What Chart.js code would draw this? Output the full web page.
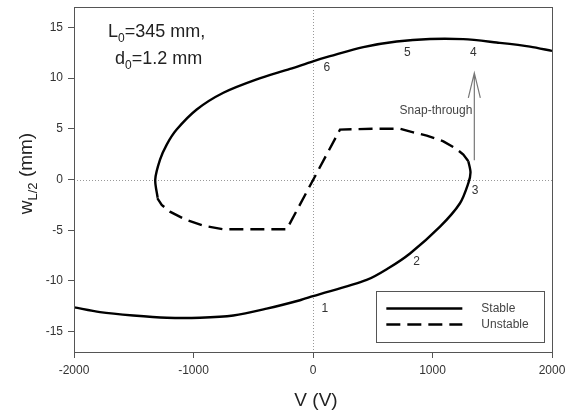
<!DOCTYPE html>
<html>
<head>
<meta charset="utf-8">
<script src="https://cdn.jsdelivr.net/npm/chart.js@4"></script>
<style>
  html, body { margin: 0; padding: 0; background: #fff; }
  #wrap { width: 569px; height: 415px; }
</style>
</head>
<body>
<div id="wrap"><canvas id="myChart" width="569" height="415"></canvas></div>
<script>
'use strict';

// stable branch, lower part (ends at the limit point 3)
var stableLowV = [-2000, -1782, -1504, -1224, -946, -667, -388, -109, 0, 449, 630, 812, 1063, 1230, 1300, 1318, 1300];
var stableLowW = [-12.6, -13.07, -13.4, -13.62, -13.62, -13.4, -12.73, -11.9, -11.5, -9.9, -8.75, -7.29, -4.65, -2.34, -0.36, 0.7, 1.8];

// stable branch, upper part
var stableUpV = [-1300, -1320, -1280, -1224, -1141, -973, -750, -471, -192, 0, 142, 421, 700, 979, 1258, 1537, 1816, 2000];
var stableUpW = [-1.8, 0, 1.95, 3.44, 4.92, 6.9, 8.55, 9.87, 10.9, 11.65, 12.15, 13.05, 13.6, 13.85, 13.83, 13.5, 13.1, 12.67];

// unstable branch
var unstableV = [1300, 1258, 1202, 1091, 952, 839, 728, 505, 226, -220, -750, -918, -1071, -1197, -1266, -1303];
var unstableW = [1.8, 2.45, 3.0, 3.76, 4.33, 4.65, 5.0, 5.0, 4.92, -4.91, -4.91, -4.55, -3.92, -3.17, -2.5, -1.84];

// numbered points along the path
var pointLabels = ['1', '2', '3', '4', '5', '6'];
var pointLabelV = [100, 867, 1356, 1342, 789, 115];
var pointLabelW = [-12.7, -8.1, -1.1, 12.5, 12.5, 11.0];

// snap-through arrow (from point 3 up to point 4)
var arrowV = 1350;
var arrowFromW = 1.9;
var arrowToW = 10.5;

var xTicks = [-2000, -1000, 0, 1000, 2000];
var yTicks = [-15, -10, -5, 0, 5, 10, 15];
var legendLabels = ['Stable', 'Unstable'];

var FONT = 'Arial, "Liberation Sans", sans-serif';

function toPts(xs, ys) {
	return xs.map(function(v, i) { return { x: v, y: ys[i] }; });
}

// text with a subscript part: [main, sub, rest]
function drawSubText(ctx, x, y, parts, size, subSize, align) {
	ctx.font = size + 'px ' + FONT;
	var w1 = ctx.measureText(parts[0]).width;
	var w3 = ctx.measureText(parts[2]).width;
	ctx.font = subSize + 'px ' + FONT;
	var w2 = ctx.measureText(parts[1]).width;
	var start = align === 'center' ? x - (w1 + w2 + w3) / 2 : x;
	ctx.textAlign = 'left';
	ctx.textBaseline = 'alphabetic';
	ctx.font = size + 'px ' + FONT;
	ctx.fillText(parts[0], start, y);
	ctx.font = subSize + 'px ' + FONT;
	ctx.fillText(parts[1], start + w1, y + size * 0.28);
	ctx.font = size + 'px ' + FONT;
	ctx.fillText(parts[2], start + w1 + w2, y);
}

var decorPlugin = {
	id: 'decor',
	beforeDatasetsDraw: function(chart) {
		var ctx = chart.ctx, a = chart.chartArea;
		var sx = chart.scales.x, sy = chart.scales.y;
		ctx.save();
		ctx.strokeStyle = '#999';
		ctx.lineWidth = 1;
		ctx.setLineDash([1, 2]);
		var x0 = Math.round(sx.getPixelForValue(0)) + 0.5;
		var y0 = Math.round(sy.getPixelForValue(0)) + 0.5;
		ctx.beginPath();
		ctx.moveTo(x0, a.top); ctx.lineTo(x0, a.bottom);
		ctx.moveTo(a.left, y0); ctx.lineTo(a.right, y0);
		ctx.stroke();
		ctx.restore();
	},
	afterDraw: function(chart) {
		var ctx = chart.ctx, a = chart.chartArea;
		var sx = chart.scales.x, sy = chart.scales.y;
		ctx.save();

		// frame
		ctx.strokeStyle = '#555';
		ctx.lineWidth = 1;
		ctx.strokeRect(Math.round(a.left) + 0.5, Math.round(a.top) + 0.5,
			Math.round(a.right - a.left), Math.round(a.bottom - a.top));

		// numbered points
		ctx.fillStyle = '#333';
		ctx.font = '12px ' + FONT;
		ctx.textAlign = 'center';
		ctx.textBaseline = 'middle';
		pointLabels.forEach(function(t, i) {
			ctx.fillText(t, sx.getPixelForValue(pointLabelV[i]), sy.getPixelForValue(pointLabelW[i]));
		});

		// snap-through arrow
		var ax = sx.getPixelForValue(arrowV);
		var ay1 = sy.getPixelForValue(arrowFromW);
		var ay2 = sy.getPixelForValue(arrowToW);
		ctx.strokeStyle = '#777';
		ctx.lineWidth = 1.2;
		ctx.beginPath();
		ctx.moveTo(ax, ay1); ctx.lineTo(ax, ay2);
		ctx.moveTo(ax - 6, ay2 + 25); ctx.lineTo(ax, ay2); ctx.lineTo(ax + 6, ay2 + 25);
		ctx.stroke();
		ctx.fillStyle = '#444';
		ctx.font = '12px ' + FONT;
		ctx.textAlign = 'right';
		ctx.textBaseline = 'middle';
		ctx.fillText('Snap-through', ax - 2, ay2 + 38);

		// parameters
		ctx.fillStyle = '#222';
		drawSubText(ctx, 108, 37, ['L', '0', '=345 mm,'], 18, 12, 'left');
		drawSubText(ctx, 115, 64, ['d', '0', '=1.2 mm'], 18, 12, 'left');

		// axis titles
		ctx.fillStyle = '#222';
		ctx.font = '19px ' + FONT;
		ctx.textAlign = 'center';
		ctx.textBaseline = 'middle';
		ctx.fillText('V (V)', (a.left + a.right) / 2 + 3, 401);
		ctx.save();
		ctx.translate(32, (a.top + a.bottom) / 2 - 6);
		ctx.rotate(-Math.PI / 2);
		drawSubText(ctx, 0, 0, ['w', 'L/2', ' (mm)'], 19, 13, 'center');
		ctx.restore();

		// legend box
		var lx = sx.getPixelForValue(530), ly = sy.getPixelForValue(-11.0);
		var lw = 168, lh = 51;
		ctx.fillStyle = '#fff';
		ctx.fillRect(lx, ly, lw, lh);
		ctx.strokeStyle = '#555';
		ctx.lineWidth = 1;
		ctx.setLineDash([]);
		ctx.strokeRect(Math.round(lx) + 0.5, Math.round(ly) + 0.5, lw, lh);
		var ds = [chart.data.datasets[0], chart.data.datasets[2]];
		legendLabels.forEach(function(t, i) {
			var yy = Math.round(ly + 17 + i * 16) + 0.5;
			ctx.strokeStyle = ds[i].borderColor;
			ctx.lineWidth = ds[i].borderWidth;
			ctx.setLineDash(ds[i].borderDash || []);
			ctx.beginPath();
			ctx.moveTo(lx + 10, yy); ctx.lineTo(lx + 86, yy);
			ctx.stroke();
			ctx.setLineDash([]);
			ctx.fillStyle = '#444';
			ctx.font = '12px ' + FONT;
			ctx.textAlign = 'left';
			ctx.textBaseline = 'middle';
			ctx.fillText(t, lx + 105, yy);
		});
		ctx.restore();
	}
};

var lineStyle = { showLine: true, pointRadius: 0, borderColor: '#000', borderWidth: 2.4, fill: false };
var plainTick = function(v) { return String(v); };

var chart = new Chart(document.getElementById('myChart'), {
	type: 'scatter',
	data: {
		datasets: [
			Object.assign({ label: 'Stable', data: toPts(stableLowV, stableLowW), tension: 0.3 }, lineStyle),
			Object.assign({ label: 'Stable', data: toPts(stableUpV, stableUpW), tension: 0.3 }, lineStyle),
			Object.assign({ label: 'Unstable', data: toPts(unstableV, unstableW), tension: 0, borderDash: [14, 7] }, lineStyle)
		]
	},
	options: {
		responsive: false,
		animation: false,
		layout: { padding: { top: 7, right: 17, left: 0, bottom: 0 } },
		plugins: { legend: { display: false }, tooltip: { enabled: false } },
		scales: {
			x: {
				type: 'linear', min: -2000, max: 2000,
				afterBuildTicks: function(s) { s.ticks = xTicks.map(function(v) { return { value: v }; }); },
				afterFit: function(s) { s.height = 63; s.paddingLeft = 0; s.paddingRight = 0; },
				grid: { display: true, drawOnChartArea: false, drawTicks: true, tickLength: 6, tickColor: '#555' },
				border: { display: false },
				ticks: { color: '#333', font: { family: FONT, size: 12 }, padding: 5, maxRotation: 0, callback: plainTick }
			},
			y: {
				type: 'linear', min: -17, max: 17,
				afterBuildTicks: function(s) { s.ticks = yTicks.map(function(v) { return { value: v }; }); },
				afterFit: function(s) { s.width = 74; s.paddingTop = 0; s.paddingBottom = 0; },
				grid: { display: true, drawOnChartArea: false, drawTicks: true, tickLength: 6, tickColor: '#555' },
				border: { display: false },
				ticks: { color: '#333', font: { family: FONT, size: 12 }, padding: 5, callback: plainTick }
			}
		}
	},
	plugins: [decorPlugin]
});
</script>
</body>
</html>
